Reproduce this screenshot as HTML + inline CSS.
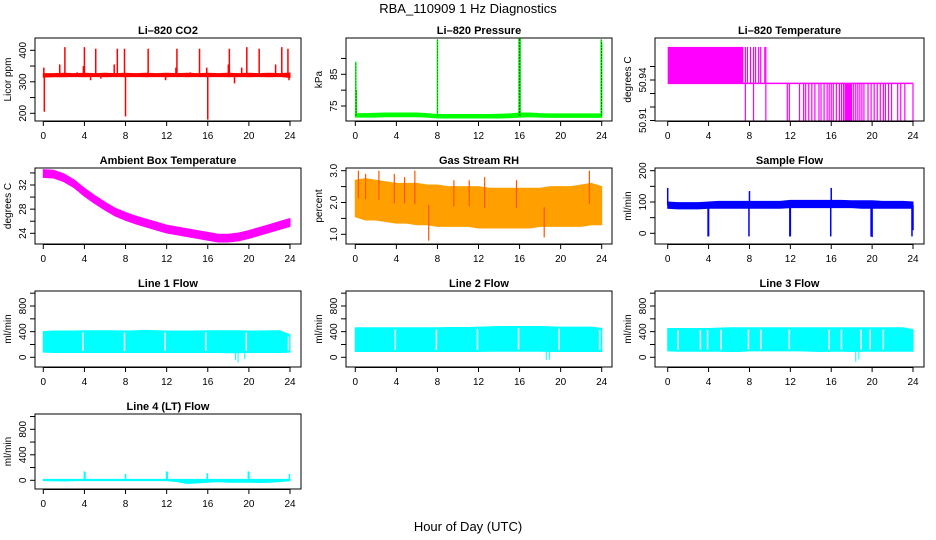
<!DOCTYPE html>
<html><head><meta charset="utf-8">
<style>
html,body{margin:0;padding:0;background:#fff;}
svg{display:block;font-family:"Liberation Sans",Arial,sans-serif;}
</style></head>
<body>
<svg id="chart" width="936" height="540" viewBox="0 0 936 540" xmlns="http://www.w3.org/2000/svg">
<text x="468" y="13" text-anchor="middle" font-size="13">RBA_110909  1 Hz Diagnostics</text>
<text x="468" y="531" text-anchor="middle" font-size="13">Hour of Day (UTC)</text>
</svg>
<script>
// ---- data ----
const hours = [0,1,2,3,4,5,6,7,8,9,10,11,12,13,14,15,16,17,18,19,20,21,22,23,24];
const xTicks = [0,4,8,12,16,20,24];

const co2Lo = [315,316,316,317,316,317,316,317,316,317,316,317,316,317,316,317,316,317,316,317,316,317,316,317,314];
const co2Hi = [326,326,327,326,327,326,327,326,327,326,327,326,327,326,327,326,327,326,327,326,327,326,327,326,328];
const co2SpikeH = [0.05,0.1,1.6,2.1,3.3,3.9,4.0,4.6,5.1,5.6,6.9,7.2,7.9,8.0,10.2,11.9,12.9,13.0,14.3,15.2,15.9,16.0,18.0,18.1,18.6,19.3,19.8,21.0,22.6,23.2,23.8,23.9];
const co2SpikeV = [345,205,355,410,330,350,410,305,405,310,355,405,405,190,405,305,345,405,330,405,345,180,355,405,295,345,410,405,355,410,405,305];

const presLo = [71.5,71.5,71.5,71.6,71.6,71.6,71.6,71.5,71.2,71.2,71.2,71.2,71.2,71.2,71.2,71.3,71.5,71.6,71.5,71.4,71.4,71.4,71.4,71.4,71.4];
const presHi = [72.6,72.6,72.7,72.8,72.8,72.8,72.8,72.6,72.3,72.3,72.3,72.3,72.3,72.3,72.4,72.5,72.8,72.8,72.6,72.5,72.5,72.5,72.5,72.5,72.5];
const presSpikeH = [0.05,0.1,8.0,15.95,16.0,16.05,23.95,24.0];
const presSpikeV = [89,80,96,96.5,96.5,96.5,96,95];

const liTempFillEnd = 7.4;
const liTempHi = 50.9645;
const liTempMid = 50.9375;
const liTempLo = 50.910;
const liTempUpH = [7.6,7.8,8.1,8.4,8.6,8.9,9.1,9.5,9.6];
const liTempDownH = [7.6,8.4,9.6,11.7,11.9,12.9,13.3,13.5,13.8,14.1,14.4,14.8,15.0,15.3,15.6,15.8,16.0,16.2,16.5,16.8,17.0,17.2,17.4,17.6,17.8,18.0,18.2,18.4,18.6,18.8,19.0,19.2,19.6,19.9,20.2,20.5,20.8,21.1,21.3,21.6,21.9,22.5,22.8,23.2,24.0];

const ambMid = [33.9,33.8,33.2,32.2,30.8,29.6,28.5,27.5,26.8,26.2,25.7,25.2,24.7,24.4,24.1,23.8,23.5,23.2,23.2,23.4,23.8,24.3,24.8,25.3,25.8];
const ambHalfWidth = [0.65,0.65,0.65,0.65,0.65,0.65,0.65,0.65,0.65,0.65,0.65,0.65,0.65,0.65,0.65,0.65,0.65,0.65,0.65,0.65,0.65,0.65,0.65,0.65,0.65];

const rhLo = [1.55,1.45,1.45,1.4,1.35,1.35,1.3,1.3,1.25,1.25,1.25,1.25,1.2,1.2,1.2,1.2,1.2,1.2,1.25,1.25,1.25,1.25,1.25,1.3,1.3];
const rhHi = [2.7,2.75,2.7,2.65,2.6,2.6,2.6,2.55,2.55,2.5,2.5,2.5,2.5,2.45,2.45,2.45,2.45,2.45,2.45,2.5,2.5,2.5,2.55,2.6,2.5];
const rhSpikeH = [0.3,1.0,2.3,3.8,4.8,5.8,7.15,9.6,11.1,12.6,15.7,18.4,22.8];
const rhSpikeV = [3.0,2.9,3.0,2.9,2.8,3.0,0.8,2.7,2.7,2.8,2.7,0.9,3.0];

const sfLo = [80,78,78,78,80,80,80,80,80,80,80,80,82,82,82,82,82,82,82,80,80,80,80,80,80];
const sfHi = [100,98,98,98,100,102,102,102,102,102,102,102,105,105,105,105,105,105,104,104,104,102,102,102,100];
const sfSpikeH = [0.0,3.95,4.0,7.95,8.0,11.95,12.0,15.95,16.0,19.9,20.0,23.9,24.0];
const sfSpikeV = [145,-10,-10,-10,135,-10,-10,-10,145,-10,-12,-10,10];

const l1Lo = [80,75,75,75,75,75,75,75,75,75,75,75,75,75,75,75,75,75,70,70,75,75,75,75,80];
const l1Hi = [400,410,410,410,415,415,415,415,410,415,420,415,410,410,410,410,415,415,415,415,410,410,415,415,350];
const l1GapH = [3.85,7.9,11.85,15.8,19.75,23.85];
const l1SpikeH = [18.7,18.95,19.6];
const l1SpikeV = [-40,-80,-30];

const l2Lo = [90,90,90,90,90,90,90,90,90,90,90,90,90,95,95,95,95,95,95,90,90,90,90,90,90];
const l2Hi = [460,460,460,460,460,460,460,460,460,465,465,465,470,475,480,480,480,480,480,475,470,470,470,470,450];
const l2GapH = [3.9,7.9,11.9,15.9,19.85,23.8];
const l2SpikeH = [18.6,18.9];
const l2SpikeV = [-40,-35];

const l3Lo = [100,95,95,95,95,95,90,90,100,100,100,100,100,100,95,90,95,95,90,95,95,95,95,95,95];
const l3Hi = [450,450,450,450,450,455,460,460,460,460,460,460,460,460,460,460,460,460,460,460,460,460,460,460,430];
const l3GapH = [1.0,3.2,3.9,5.2,7.9,9.1,11.9,15.8,17.0,18.9,19.8,21.1];
const l3SpikeH = [18.4,18.7];
const l3SpikeV = [-70,-30];

const l4Lo = [-5,-8,-10,-5,-5,-5,-5,-5,-5,-5,-5,-5,-5,-20,-50,-40,-30,-20,-30,-30,-30,-35,-30,-20,-5];
const l4Hi = [15,15,15,15,15,15,15,15,15,15,15,15,15,15,15,15,15,15,15,15,15,15,15,15,15];
const l4SpikeH = [4.0,4.05,8.0,12.0,12.05,15.95,19.95,20.0,23.95];
const l4SpikeV = [140,130,100,140,130,110,140,130,100];

// ---- layout ----
const NS = "http://www.w3.org/2000/svg";
const svg = document.getElementById('chart');
const cols = [{l:35,r:301,x0:43.3,x24:290},{l:346,r:612,x0:355.3,x24:601.7},{l:655,r:924,x0:667.7,x24:913}];
const rows = [{t:38,b:121},{t:168,b:244},{t:291,b:367},{t:414,b:489}];

function mk(tag, attrs, parent){
  const e = document.createElementNS(NS, tag);
  for (const k in attrs) e.setAttribute(k, attrs[k]);
  (parent||svg).appendChild(e);
  return e;
}

function panel(name, title, ylab, ci, ri, yA, pA, yB, pB, yTicks, yLabels, color, draw){
  const c = cols[ci], r = rows[ri];
  const g = mk('g', {});
  
  
  const X = h => c.x0 + (h/24)*(c.x24 - c.x0);
  const Y = v => pA + (v - yA)*(pB - pA)/(yB - yA);
  const clip = 'clip-' + name;
  const cp = mk('clipPath', {id: clip}, g);
  mk('rect', {x:c.l, y:r.t, width:c.r-c.l, height:r.b-r.t}, cp);
  const data = mk('g', {'clip-path':'url(#'+clip+')'}, g);
  
  
  draw(data, X, Y, color);
  const box = mk('rect', {x:c.l, y:r.t, width:c.r-c.l, height:r.b-r.t, fill:'none', stroke:'#000', 'stroke-width':1}, g);
  
  
  const t = mk('text', {x:(c.l+c.r)/2, y:r.t-4, 'text-anchor':'middle', 'font-size':11, 'font-weight':'bold'}, g);
  t.textContent = title;
  
  
  const xa = mk('g', {}, g);
  
  
  mk('line', {x1:X(xTicks[0]), x2:X(xTicks[xTicks.length-1]), y1:r.b+0.5, y2:r.b+0.5, stroke:'#000'}, xa);
  xTicks.forEach(h => {
    mk('line', {x1:X(h), x2:X(h), y1:r.b, y2:r.b+5, stroke:'#000'}, xa);
    const tl = mk('text', {x:X(h), y:r.b+18, 'text-anchor':'middle', 'font-size':10}, xa);
    tl.textContent = h;
  });
  const ya = mk('g', {}, g);
  
  
  yTicks.forEach((v,i) => {
    const y = Y(v);
    mk('line', {x1:c.l-5, x2:c.l, y1:y, y2:y, stroke:'#000'}, ya);
    if (yLabels[i] !== '') {
      const tl = mk('text', {x:0, y:0, 'text-anchor':'middle', 'font-size':10, transform:'translate('+(c.l-9)+','+y+') rotate(-90)'}, ya);
      tl.textContent = yLabels[i];
    }
  });
  const yl = mk('text', {x:0, y:0, 'text-anchor':'middle', 'font-size':10, transform:'translate('+(c.l-24)+','+((r.t+r.b)/2)+') rotate(-90)'}, g);
  yl.textContent = ylab;
  
  
}

function band(g, X, Y, lo, hi, fill){
  let d = '';
  hours.forEach((h,i) => { d += (i?'L':'M') + X(h) + ' ' + Y(hi[i]) + ' '; });
  for (let i = hours.length-1; i >= 0; i--) d += 'L' + X(hours[i]) + ' ' + Y(lo[i]) + ' ';
  const p = mk('path', {d: d + 'Z', fill: fill, stroke: fill, 'stroke-width':1}, g);
  
  
}
function spikes(g, X, Y, hs, vs, base, color, w){
  hs.forEach((h,i) => {
    const b = base[Math.min(Math.round(h), hours.length-1)];
    const l = mk('line', {x1:X(h), x2:X(h), y1:Y(b), y2:Y(vs[i]), stroke:color, 'stroke-width':w||1.5}, g);
    
    
  });
}
function gaps(g, X, Y, gh, lo, hi){
  gh.forEach(h => {
    const i = Math.min(Math.round(h), hours.length-1);
    const l = mk('line', {x1:X(h), x2:X(h), y1:Y(hi[i]-25), y2:Y(lo[i]+25), stroke:'#fff', 'stroke-width':1.5}, g);
    
    
  });
}
const mid = (lo,hi) => lo.map((v,i)=>(v+hi[i])/2);

panel('co2','Li\u2013820 CO2','Licor ppm',0,0,400,50.3,200,113.3,[200,250,300,350,400],['200','','300','','400'],'#ff0000',(g,X,Y,c)=>{
  band(g,X,Y,co2Lo,co2Hi,c); spikes(g,X,Y,co2SpikeH,co2SpikeV,mid(co2Lo,co2Hi),c,1.5);
});
panel('pressure','Li\u2013820 Pressure','kPa',1,0,85,74.3,75,106,[75,80,85,90],['75','','85',''],'#00ff00',(g,X,Y,c)=>{
  band(g,X,Y,presLo,presHi,c); spikes(g,X,Y,presSpikeH,presSpikeV,mid(presLo,presHi),c,1.5);
  presSpikeH.forEach((h,i)=>{ mk('line',{x1:X(h),x2:X(h),y1:Y(72),y2:Y(presSpikeV[i]),stroke:'#000','stroke-width':0.6,'stroke-dasharray':'1 2'},g); });
});
panel('li-temperature','Li\u2013820 Temperature','degrees C',2,0,50.94,80,50.91,120.5,[50.91,50.92,50.93,50.94,50.95],['50.91','','','50.94',''],'#ff00ff',(g,X,Y,c)=>{
  const f = mk('rect',{x:X(0),y:Y(liTempHi),width:X(liTempFillEnd)-X(0),height:Y(liTempMid)-Y(liTempHi),fill:c},g);
  
  
  mk('line',{x1:X(0),x2:X(24),y1:Y(liTempMid),y2:Y(liTempMid),stroke:c,'stroke-width':1.5},g);
  liTempUpH.forEach(h=>{ mk('line',{x1:X(h),x2:X(h),y1:Y(liTempHi),y2:Y(liTempMid),stroke:c,'stroke-width':1.2},g); });
  liTempDownH.forEach(h=>{ mk('line',{x1:X(h),x2:X(h),y1:Y(liTempMid),y2:Y(liTempLo),stroke:c,'stroke-width':1.2},g); });
  const dense = mk('rect',{x:X(17.3),y:Y(liTempMid),width:X(18.0)-X(17.3),height:Y(liTempLo)-Y(liTempMid),fill:c},g);
  
  
});
panel('ambient-temperature','Ambient Box Temperature','degrees C',0,1,32,185,24,233.3,[24,26,28,30,32,34],['24','','28','','32',''],'#ff00ff',(g,X,Y,c)=>{
  band(g,X,Y,ambMid.map((v,i)=>v-ambHalfWidth[i]),ambMid.map((v,i)=>v+ambHalfWidth[i]),c);
});
panel('gas-stream-rh','Gas Stream RH','percent',1,1,3.0,170.7,1.0,234.3,[1.0,1.5,2.0,2.5,3.0],['1.0','','2.0','','3.0'],'#ffa000',(g,X,Y,c)=>{
  band(g,X,Y,rhLo,rhHi,c); spikes(g,X,Y,rhSpikeH,rhSpikeV,mid(rhLo,rhHi),'#ff5500',1.2);
});
panel('sample-flow','Sample Flow','ml/min',2,1,200,170.7,0,233.3,[0,50,100,150,200],['0','','100','','200'],'#0000ff',(g,X,Y,c)=>{
  band(g,X,Y,sfLo,sfHi,c); spikes(g,X,Y,sfSpikeH,sfSpikeV,mid(sfLo,sfHi),c,1.5);
});
const flowTicks=[0,200,400,600,800,1000], flowLabels=['0','','400','','800',''];
panel('line1-flow','Line 1 Flow','ml/min',0,2,800,306,0,357.3,flowTicks,flowLabels,'#00ffff',(g,X,Y,c)=>{
  band(g,X,Y,l1Lo,l1Hi,c); gaps(g,X,Y,l1GapH,l1Lo,l1Hi); spikes(g,X,Y,l1SpikeH,l1SpikeV,l1Lo,c,1);
});
panel('line2-flow','Line 2 Flow','ml/min',1,2,800,306,0,357.3,flowTicks,flowLabels,'#00ffff',(g,X,Y,c)=>{
  band(g,X,Y,l2Lo,l2Hi,c); gaps(g,X,Y,l2GapH,l2Lo,l2Hi); spikes(g,X,Y,l2SpikeH,l2SpikeV,l2Lo,c,1);
});
panel('line3-flow','Line 3 Flow','ml/min',2,2,800,306,0,357.3,flowTicks,flowLabels,'#00ffff',(g,X,Y,c)=>{
  band(g,X,Y,l3Lo,l3Hi,c); gaps(g,X,Y,l3GapH,l3Lo,l3Hi); spikes(g,X,Y,l3SpikeH,l3SpikeV,l3Lo,c,1);
});
panel('line4-flow','Line 4 (LT) Flow','ml/min',0,3,800,429.3,0,480.3,flowTicks,flowLabels,'#00ffff',(g,X,Y,c)=>{
  band(g,X,Y,l4Lo,l4Hi,c); spikes(g,X,Y,l4SpikeH,l4SpikeV,mid(l4Lo,l4Hi),c,1.5);
});
</script>
</body></html>
